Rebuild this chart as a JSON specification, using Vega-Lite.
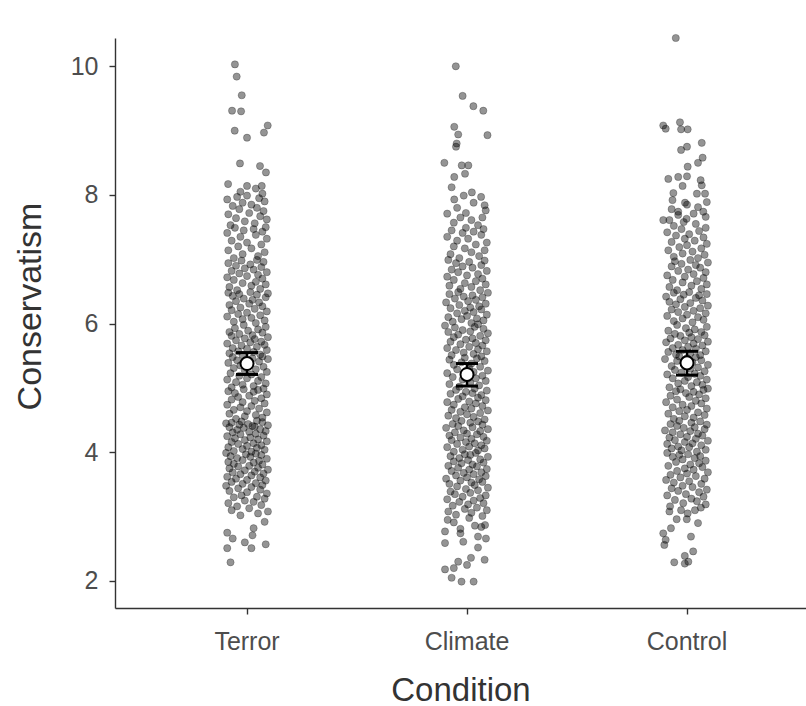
{
"$schema":"https://vega.github.io/schema/vega-lite/v6.json",
"width":691,"height":570,
"autosize":{"type":"none"},
"padding":{"left":115,"top":38,"right":0,"bottom":98},
"background":"white",
"config":{"view":{"stroke":null},"font":"Liberation Sans"},
"datasets":{
"sum":[{"c":"Terror","m":5.38,"lo":5.21,"hi":5.55},{"c":"Climate","m":5.21,"lo":5.03,"hi":5.38},{"c":"Control","m":5.39,"lo":5.2,"hi":5.57}],
"pts":[
{"c":"Terror","v":2.29,"j":-0.075},{"c":"Terror","v":2.51,"j":-0.09},{"c":"Terror","v":2.51,"j":0.02},{"c":"Terror","v":2.57,"j":0.085},{"c":"Terror","v":2.6,"j":-0.01},{"c":"Terror","v":2.66,"j":-0.065},{"c":"Terror","v":2.71,"j":0.025},{"c":"Terror","v":2.75,"j":-0.09},{"c":"Terror","v":2.82,"j":0.03},{"c":"Terror","v":2.92,"j":0.08},
{"c":"Terror","v":3.02,"j":-0.03},{"c":"Terror","v":3.05,"j":0.05},{"c":"Terror","v":3.08,"j":0.095},{"c":"Terror","v":3.1,"j":-0.07},{"c":"Terror","v":3.13,"j":0.01},{"c":"Terror","v":3.16,"j":-0.045},{"c":"Terror","v":3.18,"j":0.065},{"c":"Terror","v":3.21,"j":-0.085},{"c":"Terror","v":3.23,"j":0.03},{"c":"Terror","v":3.25,"j":-0.01},{"c":"Terror","v":3.28,"j":0.08},{"c":"Terror","v":3.3,"j":-0.06},{"c":"Terror","v":3.31,"j":0.045},{"c":"Terror","v":3.33,"j":-0.025},{"c":"Terror","v":3.36,"j":0.09},{"c":"Terror","v":3.38,"j":0.0},{"c":"Terror","v":3.4,"j":-0.08},{"c":"Terror","v":3.42,"j":0.06},{"c":"Terror","v":3.44,"j":-0.04},{"c":"Terror","v":3.46,"j":0.02},{"c":"Terror","v":3.48,"j":-0.095},{"c":"Terror","v":3.49,"j":0.07},
{"c":"Terror","v":3.51,"j":-0.02},{"c":"Terror","v":3.52,"j":0.04},{"c":"Terror","v":3.54,"j":-0.07},{"c":"Terror","v":3.56,"j":0.085},{"c":"Terror","v":3.57,"j":0.0},{"c":"Terror","v":3.59,"j":-0.05},{"c":"Terror","v":3.61,"j":0.06},{"c":"Terror","v":3.62,"j":-0.09},{"c":"Terror","v":3.64,"j":0.02},{"c":"Terror","v":3.66,"j":-0.03},{"c":"Terror","v":3.67,"j":0.075},{"c":"Terror","v":3.69,"j":-0.065},{"c":"Terror","v":3.7,"j":0.035},{"c":"Terror","v":3.72,"j":-0.01},{"c":"Terror","v":3.73,"j":0.095},{"c":"Terror","v":3.75,"j":-0.08},{"c":"Terror","v":3.76,"j":0.05},{"c":"Terror","v":3.78,"j":-0.04},{"c":"Terror","v":3.79,"j":0.01},{"c":"Terror","v":3.81,"j":0.07},{"c":"Terror","v":3.82,"j":-0.06},{"c":"Terror","v":3.84,"j":0.03},{"c":"Terror","v":3.85,"j":-0.085},{"c":"Terror","v":3.87,"j":0.055},{"c":"Terror","v":3.88,"j":-0.02},{"c":"Terror","v":3.9,"j":0.09},{"c":"Terror","v":3.91,"j":-0.045},{"c":"Terror","v":3.93,"j":0.015},{"c":"Terror","v":3.94,"j":-0.075},{"c":"Terror","v":3.96,"j":0.065},{"c":"Terror","v":3.97,"j":-0.005},{"c":"Terror","v":3.98,"j":0.04},{"c":"Terror","v":3.99,"j":-0.095},
{"c":"Terror","v":4.01,"j":0.02},{"c":"Terror","v":4.02,"j":-0.06},{"c":"Terror","v":4.04,"j":0.08},{"c":"Terror","v":4.05,"j":-0.02},{"c":"Terror","v":4.07,"j":0.045},{"c":"Terror","v":4.08,"j":-0.085},{"c":"Terror","v":4.1,"j":0.0},{"c":"Terror","v":4.11,"j":0.065},{"c":"Terror","v":4.13,"j":-0.04},{"c":"Terror","v":4.14,"j":0.03},{"c":"Terror","v":4.16,"j":-0.07},{"c":"Terror","v":4.17,"j":0.09},{"c":"Terror","v":4.19,"j":-0.01},{"c":"Terror","v":4.2,"j":0.05},{"c":"Terror","v":4.22,"j":-0.055},{"c":"Terror","v":4.23,"j":0.015},{"c":"Terror","v":4.25,"j":-0.09},{"c":"Terror","v":4.26,"j":0.075},{"c":"Terror","v":4.28,"j":-0.03},{"c":"Terror","v":4.29,"j":0.04},{"c":"Terror","v":4.31,"j":-0.065},{"c":"Terror","v":4.32,"j":0.01},{"c":"Terror","v":4.33,"j":0.085},{"c":"Terror","v":4.35,"j":-0.045},{"c":"Terror","v":4.36,"j":0.06},{"c":"Terror","v":4.38,"j":-0.015},{"c":"Terror","v":4.39,"j":-0.08},{"c":"Terror","v":4.4,"j":0.035},{"c":"Terror","v":4.42,"j":0.095},{"c":"Terror","v":4.43,"j":-0.035},{"c":"Terror","v":4.44,"j":0.005},{"c":"Terror","v":4.46,"j":-0.07},{"c":"Terror","v":4.47,"j":0.07},{"c":"Terror","v":4.48,"j":-0.025},{"c":"Terror","v":4.49,"j":0.045},{"c":"Terror","v":4.45,"j":-0.095},{"c":"Terror","v":4.41,"j":0.025},
{"c":"Terror","v":4.52,"j":-0.05},{"c":"Terror","v":4.54,"j":0.07},{"c":"Terror","v":4.56,"j":-0.01},{"c":"Terror","v":4.58,"j":0.04},{"c":"Terror","v":4.6,"j":-0.08},{"c":"Terror","v":4.62,"j":0.09},{"c":"Terror","v":4.64,"j":0.0},{"c":"Terror","v":4.66,"j":-0.06},{"c":"Terror","v":4.68,"j":0.055},{"c":"Terror","v":4.7,"j":-0.03},{"c":"Terror","v":4.72,"j":0.02},{"c":"Terror","v":4.74,"j":-0.09},{"c":"Terror","v":4.76,"j":0.08},{"c":"Terror","v":4.78,"j":-0.02},{"c":"Terror","v":4.8,"j":0.035},{"c":"Terror","v":4.82,"j":-0.07},{"c":"Terror","v":4.84,"j":0.065},{"c":"Terror","v":4.86,"j":-0.04},{"c":"Terror","v":4.88,"j":0.01},{"c":"Terror","v":4.9,"j":0.09},{"c":"Terror","v":4.92,"j":-0.055},{"c":"Terror","v":4.94,"j":0.03},{"c":"Terror","v":4.95,"j":-0.085},{"c":"Terror","v":4.97,"j":0.05},{"c":"Terror","v":4.98,"j":-0.015},{"c":"Terror","v":4.99,"j":0.075},
{"c":"Terror","v":5.01,"j":-0.07},{"c":"Terror","v":5.03,"j":0.03},{"c":"Terror","v":5.05,"j":-0.02},{"c":"Terror","v":5.07,"j":0.085},{"c":"Terror","v":5.09,"j":-0.05},{"c":"Terror","v":5.11,"j":0.05},{"c":"Terror","v":5.13,"j":-0.09},{"c":"Terror","v":5.15,"j":0.0},{"c":"Terror","v":5.17,"j":0.065},{"c":"Terror","v":5.19,"j":-0.035},{"c":"Terror","v":5.21,"j":0.02},{"c":"Terror","v":5.23,"j":-0.075},{"c":"Terror","v":5.25,"j":0.09},{"c":"Terror","v":5.27,"j":-0.01},{"c":"Terror","v":5.29,"j":0.04},{"c":"Terror","v":5.31,"j":-0.06},{"c":"Terror","v":5.33,"j":0.075},{"c":"Terror","v":5.35,"j":-0.03},{"c":"Terror","v":5.37,"j":0.01},{"c":"Terror","v":5.39,"j":-0.085},{"c":"Terror","v":5.41,"j":0.055},{"c":"Terror","v":5.43,"j":-0.045},{"c":"Terror","v":5.45,"j":0.095},{"c":"Terror","v":5.46,"j":0.025},{"c":"Terror","v":5.48,"j":-0.065},{"c":"Terror","v":5.49,"j":0.07},
{"c":"Terror","v":5.51,"j":-0.02},{"c":"Terror","v":5.52,"j":0.06},{"c":"Terror","v":5.54,"j":-0.08},{"c":"Terror","v":5.56,"j":0.03},{"c":"Terror","v":5.57,"j":-0.04},{"c":"Terror","v":5.59,"j":0.09},{"c":"Terror","v":5.61,"j":0.0},{"c":"Terror","v":5.62,"j":-0.065},{"c":"Terror","v":5.64,"j":0.045},{"c":"Terror","v":5.66,"j":-0.025},{"c":"Terror","v":5.67,"j":0.08},{"c":"Terror","v":5.69,"j":-0.09},{"c":"Terror","v":5.71,"j":0.015},{"c":"Terror","v":5.72,"j":0.065},{"c":"Terror","v":5.74,"j":-0.05},{"c":"Terror","v":5.76,"j":0.035},{"c":"Terror","v":5.77,"j":-0.01},{"c":"Terror","v":5.79,"j":0.095},{"c":"Terror","v":5.81,"j":-0.07},{"c":"Terror","v":5.82,"j":0.025},{"c":"Terror","v":5.84,"j":-0.035},{"c":"Terror","v":5.86,"j":0.07},{"c":"Terror","v":5.87,"j":-0.08},{"c":"Terror","v":5.89,"j":0.005},{"c":"Terror","v":5.91,"j":0.05},{"c":"Terror","v":5.93,"j":-0.055},{"c":"Terror","v":5.95,"j":0.085},{"c":"Terror","v":5.98,"j":-0.015},
{"c":"Terror","v":6.01,"j":0.04},{"c":"Terror","v":6.03,"j":-0.06},{"c":"Terror","v":6.05,"j":0.08},{"c":"Terror","v":6.07,"j":-0.02},{"c":"Terror","v":6.09,"j":0.02},{"c":"Terror","v":6.11,"j":-0.09},{"c":"Terror","v":6.13,"j":0.06},{"c":"Terror","v":6.15,"j":-0.04},{"c":"Terror","v":6.17,"j":0.0},{"c":"Terror","v":6.19,"j":0.09},{"c":"Terror","v":6.21,"j":-0.07},{"c":"Terror","v":6.23,"j":0.035},{"c":"Terror","v":6.25,"j":-0.03},{"c":"Terror","v":6.27,"j":0.07},{"c":"Terror","v":6.29,"j":-0.08},{"c":"Terror","v":6.31,"j":0.01},{"c":"Terror","v":6.33,"j":0.055},{"c":"Terror","v":6.35,"j":-0.05},{"c":"Terror","v":6.37,"j":0.025},{"c":"Terror","v":6.39,"j":-0.015},{"c":"Terror","v":6.41,"j":0.085},{"c":"Terror","v":6.43,"j":-0.065},{"c":"Terror","v":6.45,"j":0.045},{"c":"Terror","v":6.46,"j":-0.035},{"c":"Terror","v":6.47,"j":0.095},{"c":"Terror","v":6.48,"j":-0.085},{"c":"Terror","v":6.49,"j":0.015},
{"c":"Terror","v":6.52,"j":-0.045},{"c":"Terror","v":6.54,"j":0.06},{"c":"Terror","v":6.57,"j":-0.08},{"c":"Terror","v":6.59,"j":0.02},{"c":"Terror","v":6.61,"j":0.085},{"c":"Terror","v":6.63,"j":-0.02},{"c":"Terror","v":6.65,"j":0.04},{"c":"Terror","v":6.68,"j":-0.06},{"c":"Terror","v":6.7,"j":0.07},{"c":"Terror","v":6.72,"j":-0.09},{"c":"Terror","v":6.74,"j":0.0},{"c":"Terror","v":6.76,"j":0.05},{"c":"Terror","v":6.78,"j":-0.035},{"c":"Terror","v":6.8,"j":0.09},{"c":"Terror","v":6.82,"j":-0.07},{"c":"Terror","v":6.84,"j":0.03},{"c":"Terror","v":6.86,"j":-0.01},{"c":"Terror","v":6.88,"j":0.065},{"c":"Terror","v":6.9,"j":-0.05},{"c":"Terror","v":6.92,"j":0.015},{"c":"Terror","v":6.94,"j":-0.085},{"c":"Terror","v":6.96,"j":0.075},{"c":"Terror","v":6.98,"j":-0.025},{"c":"Terror","v":6.99,"j":0.045},
{"c":"Terror","v":7.02,"j":-0.06},{"c":"Terror","v":7.05,"j":0.05},{"c":"Terror","v":7.08,"j":-0.02},{"c":"Terror","v":7.11,"j":0.08},{"c":"Terror","v":7.14,"j":-0.085},{"c":"Terror","v":7.17,"j":0.02},{"c":"Terror","v":7.2,"j":-0.04},{"c":"Terror","v":7.23,"j":0.065},{"c":"Terror","v":7.26,"j":0.0},{"c":"Terror","v":7.29,"j":-0.07},{"c":"Terror","v":7.32,"j":0.09},{"c":"Terror","v":7.35,"j":-0.03},{"c":"Terror","v":7.38,"j":0.04},{"c":"Terror","v":7.41,"j":-0.09},{"c":"Terror","v":7.43,"j":0.07},{"c":"Terror","v":7.45,"j":-0.015},{"c":"Terror","v":7.47,"j":0.03},{"c":"Terror","v":7.49,"j":-0.055},{"c":"Terror","v":7.5,"j":0.085},
{"c":"Terror","v":7.53,"j":-0.075},{"c":"Terror","v":7.56,"j":0.035},{"c":"Terror","v":7.59,"j":-0.01},{"c":"Terror","v":7.62,"j":0.09},{"c":"Terror","v":7.64,"j":-0.05},{"c":"Terror","v":7.67,"j":0.06},{"c":"Terror","v":7.7,"j":-0.085},{"c":"Terror","v":7.72,"j":0.01},{"c":"Terror","v":7.75,"j":0.075},{"c":"Terror","v":7.78,"j":-0.035},{"c":"Terror","v":7.8,"j":0.045},{"c":"Terror","v":7.83,"j":-0.065},{"c":"Terror","v":7.85,"j":0.02},{"c":"Terror","v":7.88,"j":-0.02},{"c":"Terror","v":7.9,"j":0.08},{"c":"Terror","v":7.93,"j":-0.09},{"c":"Terror","v":7.95,"j":0.055},{"c":"Terror","v":7.97,"j":-0.045},{"c":"Terror","v":7.99,"j":0.0},{"c":"Terror","v":8.02,"j":0.07},
{"c":"Terror","v":8.05,"j":-0.03},{"c":"Terror","v":8.1,"j":0.04},{"c":"Terror","v":8.14,"j":0.0},{"c":"Terror","v":8.14,"j":0.067},{"c":"Terror","v":8.17,"j":-0.086},{"c":"Terror","v":8.35,"j":0.086},{"c":"Terror","v":8.45,"j":0.059},{"c":"Terror","v":8.49,"j":-0.032},
{"c":"Terror","v":8.89,"j":0.0},{"c":"Terror","v":8.97,"j":0.077},{"c":"Terror","v":9.0,"j":-0.056},{"c":"Terror","v":9.08,"j":0.094},{"c":"Terror","v":9.3,"j":-0.027},{"c":"Terror","v":9.31,"j":-0.068},{"c":"Terror","v":9.55,"j":-0.024},{"c":"Terror","v":9.84,"j":-0.047},{"c":"Terror","v":10.03,"j":-0.055},

{"c":"Climate","v":1.99,"j":-0.025},{"c":"Climate","v":1.99,"j":0.03},{"c":"Climate","v":2.05,"j":-0.07},{"c":"Climate","v":2.18,"j":-0.1},{"c":"Climate","v":2.2,"j":-0.06},{"c":"Climate","v":2.25,"j":0.0},{"c":"Climate","v":2.3,"j":-0.04},{"c":"Climate","v":2.33,"j":0.08},{"c":"Climate","v":2.36,"j":0.018},
{"c":"Climate","v":2.52,"j":0.05},{"c":"Climate","v":2.59,"j":-0.1},{"c":"Climate","v":2.61,"j":-0.017},{"c":"Climate","v":2.66,"j":0.086},{"c":"Climate","v":2.69,"j":0.05},{"c":"Climate","v":2.74,"j":-0.03},{"c":"Climate","v":2.77,"j":-0.1},{"c":"Climate","v":2.81,"j":-0.03},{"c":"Climate","v":2.84,"j":0.065},{"c":"Climate","v":2.86,"j":0.036},{"c":"Climate","v":2.87,"j":0.082},{"c":"Climate","v":2.91,"j":-0.06},{"c":"Climate","v":2.95,"j":-0.088},{"c":"Climate","v":2.98,"j":0.01},
{"c":"Climate","v":3.01,"j":0.07},{"c":"Climate","v":3.03,"j":-0.05},{"c":"Climate","v":3.06,"j":0.02},{"c":"Climate","v":3.08,"j":-0.085},{"c":"Climate","v":3.1,"j":0.09},{"c":"Climate","v":3.12,"j":-0.01},{"c":"Climate","v":3.14,"j":0.045},{"c":"Climate","v":3.17,"j":-0.065},{"c":"Climate","v":3.19,"j":0.005},{"c":"Climate","v":3.21,"j":0.075},{"c":"Climate","v":3.23,"j":-0.035},{"c":"Climate","v":3.25,"j":0.03},{"c":"Climate","v":3.27,"j":-0.09},{"c":"Climate","v":3.29,"j":0.06},{"c":"Climate","v":3.31,"j":-0.02},{"c":"Climate","v":3.33,"j":0.085},{"c":"Climate","v":3.35,"j":-0.055},{"c":"Climate","v":3.37,"j":0.015},{"c":"Climate","v":3.39,"j":-0.075},{"c":"Climate","v":3.41,"j":0.05},{"c":"Climate","v":3.43,"j":-0.005},{"c":"Climate","v":3.45,"j":0.095},{"c":"Climate","v":3.47,"j":-0.045},{"c":"Climate","v":3.49,"j":0.035},
{"c":"Climate","v":3.51,"j":-0.08},{"c":"Climate","v":3.53,"j":0.02},{"c":"Climate","v":3.54,"j":0.07},{"c":"Climate","v":3.56,"j":-0.03},{"c":"Climate","v":3.58,"j":0.055},{"c":"Climate","v":3.59,"j":-0.095},{"c":"Climate","v":3.61,"j":0.0},{"c":"Climate","v":3.63,"j":0.085},{"c":"Climate","v":3.64,"j":-0.05},{"c":"Climate","v":3.66,"j":0.03},{"c":"Climate","v":3.68,"j":-0.015},{"c":"Climate","v":3.69,"j":0.065},{"c":"Climate","v":3.71,"j":-0.07},{"c":"Climate","v":3.73,"j":0.01},{"c":"Climate","v":3.74,"j":0.09},{"c":"Climate","v":3.76,"j":-0.04},{"c":"Climate","v":3.78,"j":0.045},{"c":"Climate","v":3.79,"j":-0.085},{"c":"Climate","v":3.81,"j":0.025},{"c":"Climate","v":3.83,"j":-0.025},{"c":"Climate","v":3.84,"j":0.075},{"c":"Climate","v":3.86,"j":-0.06},{"c":"Climate","v":3.88,"j":0.005},{"c":"Climate","v":3.89,"j":0.06},{"c":"Climate","v":3.91,"j":-0.035},{"c":"Climate","v":3.93,"j":0.095},{"c":"Climate","v":3.94,"j":-0.075},{"c":"Climate","v":3.96,"j":0.015},{"c":"Climate","v":3.97,"j":-0.01},{"c":"Climate","v":3.99,"j":0.04},
{"c":"Climate","v":4.01,"j":-0.06},{"c":"Climate","v":4.03,"j":0.05},{"c":"Climate","v":4.04,"j":-0.02},{"c":"Climate","v":4.06,"j":0.08},{"c":"Climate","v":4.08,"j":-0.09},{"c":"Climate","v":4.09,"j":0.01},{"c":"Climate","v":4.11,"j":0.065},{"c":"Climate","v":4.13,"j":-0.045},{"c":"Climate","v":4.14,"j":0.035},{"c":"Climate","v":4.16,"j":-0.005},{"c":"Climate","v":4.18,"j":0.09},{"c":"Climate","v":4.19,"j":-0.07},{"c":"Climate","v":4.21,"j":0.02},{"c":"Climate","v":4.23,"j":-0.03},{"c":"Climate","v":4.24,"j":0.075},{"c":"Climate","v":4.26,"j":-0.08},{"c":"Climate","v":4.28,"j":0.045},{"c":"Climate","v":4.29,"j":0.0},{"c":"Climate","v":4.31,"j":-0.055},{"c":"Climate","v":4.33,"j":0.06},{"c":"Climate","v":4.34,"j":-0.015},{"c":"Climate","v":4.36,"j":0.095},{"c":"Climate","v":4.38,"j":-0.095},{"c":"Climate","v":4.39,"j":0.025},{"c":"Climate","v":4.41,"j":-0.04},{"c":"Climate","v":4.43,"j":0.07},{"c":"Climate","v":4.44,"j":-0.065},{"c":"Climate","v":4.46,"j":0.015},{"c":"Climate","v":4.48,"j":0.05},{"c":"Climate","v":4.49,"j":-0.025},
{"c":"Climate","v":4.51,"j":0.08},{"c":"Climate","v":4.53,"j":-0.05},{"c":"Climate","v":4.55,"j":0.03},{"c":"Climate","v":4.57,"j":-0.085},{"c":"Climate","v":4.59,"j":0.0},{"c":"Climate","v":4.61,"j":0.06},{"c":"Climate","v":4.63,"j":-0.03},{"c":"Climate","v":4.65,"j":0.095},{"c":"Climate","v":4.66,"j":-0.07},{"c":"Climate","v":4.68,"j":0.02},{"c":"Climate","v":4.7,"j":-0.01},{"c":"Climate","v":4.72,"j":0.07},{"c":"Climate","v":4.74,"j":-0.06},{"c":"Climate","v":4.76,"j":0.04},{"c":"Climate","v":4.78,"j":-0.09},{"c":"Climate","v":4.79,"j":0.01},{"c":"Climate","v":4.81,"j":0.085},{"c":"Climate","v":4.83,"j":-0.04},{"c":"Climate","v":4.85,"j":0.05},{"c":"Climate","v":4.87,"j":-0.02},{"c":"Climate","v":4.89,"j":0.065},{"c":"Climate","v":4.91,"j":-0.075},{"c":"Climate","v":4.92,"j":0.025},{"c":"Climate","v":4.94,"j":-0.005},{"c":"Climate","v":4.96,"j":0.09},{"c":"Climate","v":4.97,"j":-0.05},{"c":"Climate","v":4.99,"j":0.035},
{"c":"Climate","v":5.02,"j":-0.035},{"c":"Climate","v":5.04,"j":0.055},{"c":"Climate","v":5.06,"j":-0.08},{"c":"Climate","v":5.08,"j":0.015},{"c":"Climate","v":5.11,"j":0.085},{"c":"Climate","v":5.13,"j":-0.02},{"c":"Climate","v":5.15,"j":0.04},{"c":"Climate","v":5.17,"j":-0.065},{"c":"Climate","v":5.19,"j":0.07},{"c":"Climate","v":5.21,"j":-0.005},{"c":"Climate","v":5.23,"j":-0.09},{"c":"Climate","v":5.25,"j":0.03},{"c":"Climate","v":5.27,"j":0.095},{"c":"Climate","v":5.29,"j":-0.045},{"c":"Climate","v":5.31,"j":0.01},{"c":"Climate","v":5.33,"j":0.06},{"c":"Climate","v":5.36,"j":-0.06},{"c":"Climate","v":5.38,"j":0.02},{"c":"Climate","v":5.4,"j":-0.025},{"c":"Climate","v":5.42,"j":0.08},{"c":"Climate","v":5.44,"j":-0.08},{"c":"Climate","v":5.46,"j":0.045},{"c":"Climate","v":5.47,"j":-0.01},{"c":"Climate","v":5.49,"j":0.065},
{"c":"Climate","v":5.51,"j":-0.07},{"c":"Climate","v":5.53,"j":0.03},{"c":"Climate","v":5.55,"j":-0.015},{"c":"Climate","v":5.57,"j":0.09},{"c":"Climate","v":5.59,"j":-0.05},{"c":"Climate","v":5.6,"j":0.05},{"c":"Climate","v":5.62,"j":-0.09},{"c":"Climate","v":5.64,"j":0.01},{"c":"Climate","v":5.66,"j":0.07},{"c":"Climate","v":5.68,"j":-0.03},{"c":"Climate","v":5.7,"j":0.04},{"c":"Climate","v":5.72,"j":-0.075},{"c":"Climate","v":5.74,"j":0.085},{"c":"Climate","v":5.75,"j":-0.005},{"c":"Climate","v":5.77,"j":0.025},{"c":"Climate","v":5.79,"j":-0.06},{"c":"Climate","v":5.81,"j":0.06},{"c":"Climate","v":5.83,"j":-0.04},{"c":"Climate","v":5.85,"j":0.095},{"c":"Climate","v":5.87,"j":-0.085},{"c":"Climate","v":5.88,"j":0.015},{"c":"Climate","v":5.9,"j":-0.02},{"c":"Climate","v":5.92,"j":0.075},{"c":"Climate","v":5.94,"j":-0.055},{"c":"Climate","v":5.95,"j":0.035},{"c":"Climate","v":5.97,"j":-0.1},{"c":"Climate","v":5.99,"j":0.05},
{"c":"Climate","v":6.01,"j":0.02},{"c":"Climate","v":6.03,"j":-0.065},{"c":"Climate","v":6.05,"j":0.075},{"c":"Climate","v":6.07,"j":-0.025},{"c":"Climate","v":6.08,"j":0.045},{"c":"Climate","v":6.1,"j":-0.085},{"c":"Climate","v":6.12,"j":0.0},{"c":"Climate","v":6.14,"j":0.09},{"c":"Climate","v":6.16,"j":-0.045},{"c":"Climate","v":6.18,"j":0.03},{"c":"Climate","v":6.2,"j":-0.01},{"c":"Climate","v":6.22,"j":0.065},{"c":"Climate","v":6.24,"j":-0.075},{"c":"Climate","v":6.25,"j":0.015},{"c":"Climate","v":6.27,"j":0.055},{"c":"Climate","v":6.29,"j":-0.035},{"c":"Climate","v":6.31,"j":0.085},{"c":"Climate","v":6.33,"j":-0.095},{"c":"Climate","v":6.35,"j":0.005},{"c":"Climate","v":6.37,"j":0.04},{"c":"Climate","v":6.39,"j":-0.055},{"c":"Climate","v":6.41,"j":0.07},{"c":"Climate","v":6.42,"j":-0.015},{"c":"Climate","v":6.44,"j":0.025},{"c":"Climate","v":6.46,"j":-0.08},{"c":"Climate","v":6.48,"j":0.095},{"c":"Climate","v":6.49,"j":-0.04},
{"c":"Climate","v":6.52,"j":0.06},{"c":"Climate","v":6.54,"j":-0.03},{"c":"Climate","v":6.57,"j":0.02},{"c":"Climate","v":6.59,"j":-0.08},{"c":"Climate","v":6.61,"j":0.085},{"c":"Climate","v":6.63,"j":-0.01},{"c":"Climate","v":6.66,"j":0.04},{"c":"Climate","v":6.68,"j":-0.06},{"c":"Climate","v":6.7,"j":0.07},{"c":"Climate","v":6.73,"j":-0.09},{"c":"Climate","v":6.75,"j":0.0},{"c":"Climate","v":6.77,"j":0.05},{"c":"Climate","v":6.8,"j":-0.04},{"c":"Climate","v":6.82,"j":0.09},{"c":"Climate","v":6.84,"j":-0.07},{"c":"Climate","v":6.87,"j":0.025},{"c":"Climate","v":6.89,"j":-0.02},{"c":"Climate","v":6.91,"j":0.065},{"c":"Climate","v":6.94,"j":-0.05},{"c":"Climate","v":6.96,"j":0.01},{"c":"Climate","v":6.98,"j":0.08},{"c":"Climate","v":6.99,"j":-0.085},
{"c":"Climate","v":7.02,"j":-0.035},{"c":"Climate","v":7.05,"j":0.055},{"c":"Climate","v":7.08,"j":-0.075},{"c":"Climate","v":7.11,"j":0.02},{"c":"Climate","v":7.14,"j":0.08},{"c":"Climate","v":7.17,"j":-0.01},{"c":"Climate","v":7.2,"j":-0.06},{"c":"Climate","v":7.23,"j":0.04},{"c":"Climate","v":7.26,"j":0.09},{"c":"Climate","v":7.29,"j":-0.045},{"c":"Climate","v":7.32,"j":0.005},{"c":"Climate","v":7.35,"j":-0.09},{"c":"Climate","v":7.38,"j":0.065},{"c":"Climate","v":7.41,"j":-0.02},{"c":"Climate","v":7.43,"j":0.03},{"c":"Climate","v":7.45,"j":-0.07},{"c":"Climate","v":7.47,"j":0.075},{"c":"Climate","v":7.49,"j":-0.005},
{"c":"Climate","v":7.53,"j":0.05},{"c":"Climate","v":7.57,"j":-0.06},{"c":"Climate","v":7.61,"j":0.02},{"c":"Climate","v":7.65,"j":-0.03},{"c":"Climate","v":7.65,"j":0.07},{"c":"Climate","v":7.71,"j":-0.09},{"c":"Climate","v":7.72,"j":-0.005},{"c":"Climate","v":7.76,"j":0.085},{"c":"Climate","v":7.8,"j":-0.045},{"c":"Climate","v":7.84,"j":0.08},{"c":"Climate","v":7.88,"j":0.03},{"c":"Climate","v":7.93,"j":-0.058},{"c":"Climate","v":7.97,"j":0.064},{"c":"Climate","v":7.99,"j":-0.015},
{"c":"Climate","v":8.04,"j":0.022},{"c":"Climate","v":8.12,"j":-0.07},{"c":"Climate","v":8.28,"j":-0.058},{"c":"Climate","v":8.33,"j":-0.009},{"c":"Climate","v":8.46,"j":-0.024},{"c":"Climate","v":8.46,"j":0.006},
{"c":"Climate","v":8.5,"j":-0.103},{"c":"Climate","v":8.75,"j":-0.05},{"c":"Climate","v":8.8,"j":-0.047},{"c":"Climate","v":8.93,"j":0.093},{"c":"Climate","v":8.94,"j":-0.04},
{"c":"Climate","v":9.06,"j":-0.058},{"c":"Climate","v":9.31,"j":0.074},{"c":"Climate","v":9.38,"j":0.029},{"c":"Climate","v":9.54,"j":-0.02},{"c":"Climate","v":10.0,"j":-0.051},

{"c":"Control","v":2.27,"j":-0.01},{"c":"Control","v":2.29,"j":-0.058},{"c":"Control","v":2.3,"j":0.006},{"c":"Control","v":2.39,"j":-0.01},{"c":"Control","v":2.46,"j":0.028},
{"c":"Control","v":2.56,"j":-0.103},{"c":"Control","v":2.64,"j":-0.097},{"c":"Control","v":2.69,"j":0.018},{"c":"Control","v":2.74,"j":-0.108},{"c":"Control","v":2.82,"j":-0.073},{"c":"Control","v":2.9,"j":0.05},{"c":"Control","v":2.96,"j":-0.047},{"c":"Control","v":2.96,"j":-0.001},
{"c":"Control","v":3.05,"j":0.003},{"c":"Control","v":3.08,"j":-0.08},{"c":"Control","v":3.1,"j":-0.027},{"c":"Control","v":3.1,"j":0.036},{"c":"Control","v":3.14,"j":0.063},{"c":"Control","v":3.16,"j":-0.077},{"c":"Control","v":3.19,"j":0.085},{"c":"Control","v":3.21,"j":-0.017},{"c":"Control","v":3.24,"j":0.045},{"c":"Control","v":3.26,"j":-0.055},{"c":"Control","v":3.28,"j":0.02},{"c":"Control","v":3.31,"j":0.075},{"c":"Control","v":3.33,"j":-0.09},{"c":"Control","v":3.35,"j":-0.005},{"c":"Control","v":3.38,"j":0.055},{"c":"Control","v":3.4,"j":-0.04},{"c":"Control","v":3.42,"j":0.09},{"c":"Control","v":3.44,"j":-0.07},{"c":"Control","v":3.46,"j":0.025},{"c":"Control","v":3.48,"j":-0.02},
{"c":"Control","v":3.51,"j":0.065},{"c":"Control","v":3.53,"j":-0.06},{"c":"Control","v":3.55,"j":0.01},{"c":"Control","v":3.57,"j":-0.095},{"c":"Control","v":3.59,"j":0.08},{"c":"Control","v":3.61,"j":-0.03},{"c":"Control","v":3.63,"j":0.04},{"c":"Control","v":3.65,"j":-0.075},{"c":"Control","v":3.67,"j":0.0},{"c":"Control","v":3.69,"j":0.095},{"c":"Control","v":3.71,"j":-0.045},{"c":"Control","v":3.73,"j":0.03},{"c":"Control","v":3.75,"j":-0.01},{"c":"Control","v":3.77,"j":0.07},{"c":"Control","v":3.79,"j":-0.085},{"c":"Control","v":3.81,"j":0.015},{"c":"Control","v":3.83,"j":0.055},{"c":"Control","v":3.85,"j":-0.05},{"c":"Control","v":3.87,"j":0.085},{"c":"Control","v":3.89,"j":-0.02},{"c":"Control","v":3.91,"j":0.035},{"c":"Control","v":3.93,"j":-0.065},{"c":"Control","v":3.94,"j":0.06},{"c":"Control","v":3.96,"j":-0.035},{"c":"Control","v":3.97,"j":0.005},{"c":"Control","v":3.99,"j":-0.09},
{"c":"Control","v":4.01,"j":0.045},{"c":"Control","v":4.03,"j":-0.025},{"c":"Control","v":4.04,"j":0.085},{"c":"Control","v":4.06,"j":-0.07},{"c":"Control","v":4.08,"j":0.01},{"c":"Control","v":4.09,"j":-0.04},{"c":"Control","v":4.11,"j":0.065},{"c":"Control","v":4.13,"j":-0.09},{"c":"Control","v":4.14,"j":0.025},{"c":"Control","v":4.16,"j":-0.01},{"c":"Control","v":4.18,"j":0.095},{"c":"Control","v":4.19,"j":-0.055},{"c":"Control","v":4.21,"j":0.04},{"c":"Control","v":4.23,"j":-0.08},{"c":"Control","v":4.24,"j":0.0},{"c":"Control","v":4.26,"j":0.07},{"c":"Control","v":4.28,"j":-0.03},{"c":"Control","v":4.29,"j":0.05},{"c":"Control","v":4.31,"j":-0.065},{"c":"Control","v":4.33,"j":0.015},{"c":"Control","v":4.34,"j":-0.1},{"c":"Control","v":4.36,"j":0.08},{"c":"Control","v":4.38,"j":-0.015},{"c":"Control","v":4.39,"j":0.035},{"c":"Control","v":4.41,"j":-0.045},{"c":"Control","v":4.43,"j":0.09},{"c":"Control","v":4.44,"j":-0.075},{"c":"Control","v":4.46,"j":0.02},{"c":"Control","v":4.48,"j":0.06},{"c":"Control","v":4.49,"j":-0.035},
{"c":"Control","v":4.52,"j":-0.06},{"c":"Control","v":4.54,"j":0.03},{"c":"Control","v":4.56,"j":-0.01},{"c":"Control","v":4.58,"j":0.08},{"c":"Control","v":4.6,"j":-0.085},{"c":"Control","v":4.62,"j":0.05},{"c":"Control","v":4.64,"j":-0.035},{"c":"Control","v":4.66,"j":0.0},{"c":"Control","v":4.68,"j":0.09},{"c":"Control","v":4.7,"j":-0.065},{"c":"Control","v":4.72,"j":0.02},{"c":"Control","v":4.74,"j":-0.02},{"c":"Control","v":4.76,"j":0.065},{"c":"Control","v":4.78,"j":-0.095},{"c":"Control","v":4.8,"j":0.04},{"c":"Control","v":4.82,"j":-0.045},{"c":"Control","v":4.84,"j":0.085},{"c":"Control","v":4.86,"j":0.01},{"c":"Control","v":4.88,"j":-0.075},{"c":"Control","v":4.9,"j":0.055},{"c":"Control","v":4.92,"j":-0.005},{"c":"Control","v":4.94,"j":0.03},{"c":"Control","v":4.95,"j":-0.05},{"c":"Control","v":4.97,"j":0.075},{"c":"Control","v":4.98,"j":-0.03},{"c":"Control","v":4.99,"j":0.095},
{"c":"Control","v":5.01,"j":-0.08},{"c":"Control","v":5.03,"j":0.02},{"c":"Control","v":5.05,"j":0.07},{"c":"Control","v":5.07,"j":-0.04},{"c":"Control","v":5.09,"j":0.045},{"c":"Control","v":5.11,"j":-0.01},{"c":"Control","v":5.13,"j":0.09},{"c":"Control","v":5.15,"j":-0.065},{"c":"Control","v":5.17,"j":0.005},{"c":"Control","v":5.19,"j":0.06},{"c":"Control","v":5.21,"j":-0.09},{"c":"Control","v":5.22,"j":0.035},{"c":"Control","v":5.24,"j":-0.025},{"c":"Control","v":5.26,"j":0.08},{"c":"Control","v":5.28,"j":-0.055},{"c":"Control","v":5.3,"j":0.015},{"c":"Control","v":5.32,"j":0.05},{"c":"Control","v":5.34,"j":-0.07},{"c":"Control","v":5.36,"j":0.095},{"c":"Control","v":5.38,"j":-0.015},{"c":"Control","v":5.4,"j":0.025},{"c":"Control","v":5.42,"j":-0.045},{"c":"Control","v":5.43,"j":0.065},{"c":"Control","v":5.45,"j":-0.1},{"c":"Control","v":5.46,"j":0.0},{"c":"Control","v":5.48,"j":0.04},{"c":"Control","v":5.49,"j":-0.035},
{"c":"Control","v":5.51,"j":0.06},{"c":"Control","v":5.52,"j":-0.05},{"c":"Control","v":5.54,"j":0.015},{"c":"Control","v":5.56,"j":-0.085},{"c":"Control","v":5.57,"j":0.085},{"c":"Control","v":5.59,"j":-0.02},{"c":"Control","v":5.61,"j":0.04},{"c":"Control","v":5.62,"j":-0.065},{"c":"Control","v":5.64,"j":0.005},{"c":"Control","v":5.66,"j":0.07},{"c":"Control","v":5.67,"j":-0.04},{"c":"Control","v":5.69,"j":0.03},{"c":"Control","v":5.71,"j":-0.095},{"c":"Control","v":5.72,"j":0.095},{"c":"Control","v":5.74,"j":-0.01},{"c":"Control","v":5.76,"j":0.05},{"c":"Control","v":5.77,"j":-0.075},{"c":"Control","v":5.79,"j":0.02},{"c":"Control","v":5.81,"j":-0.03},{"c":"Control","v":5.82,"j":0.08},{"c":"Control","v":5.84,"j":-0.055},{"c":"Control","v":5.86,"j":0.01},{"c":"Control","v":5.87,"j":0.065},{"c":"Control","v":5.89,"j":-0.085},{"c":"Control","v":5.91,"j":0.035},{"c":"Control","v":5.93,"j":-0.005},{"c":"Control","v":5.95,"j":0.09},{"c":"Control","v":5.98,"j":-0.045},
{"c":"Control","v":6.02,"j":0.025},{"c":"Control","v":6.04,"j":-0.06},{"c":"Control","v":6.06,"j":0.075},{"c":"Control","v":6.08,"j":-0.02},{"c":"Control","v":6.1,"j":0.05},{"c":"Control","v":6.12,"j":-0.09},{"c":"Control","v":6.14,"j":0.0},{"c":"Control","v":6.16,"j":0.085},{"c":"Control","v":6.18,"j":-0.04},{"c":"Control","v":6.2,"j":0.03},{"c":"Control","v":6.22,"j":-0.07},{"c":"Control","v":6.24,"j":0.06},{"c":"Control","v":6.26,"j":-0.01},{"c":"Control","v":6.28,"j":0.095},{"c":"Control","v":6.3,"j":-0.05},{"c":"Control","v":6.32,"j":0.015},{"c":"Control","v":6.34,"j":-0.08},{"c":"Control","v":6.36,"j":0.07},{"c":"Control","v":6.38,"j":-0.03},{"c":"Control","v":6.4,"j":0.04},{"c":"Control","v":6.42,"j":-0.095},{"c":"Control","v":6.44,"j":0.055},{"c":"Control","v":6.45,"j":-0.015},{"c":"Control","v":6.46,"j":0.09},{"c":"Control","v":6.48,"j":-0.06},{"c":"Control","v":6.49,"j":0.01},
{"c":"Control","v":6.52,"j":-0.045},{"c":"Control","v":6.54,"j":0.065},{"c":"Control","v":6.57,"j":-0.08},{"c":"Control","v":6.59,"j":0.02},{"c":"Control","v":6.61,"j":0.09},{"c":"Control","v":6.64,"j":-0.02},{"c":"Control","v":6.66,"j":0.045},{"c":"Control","v":6.68,"j":-0.065},{"c":"Control","v":6.71,"j":0.075},{"c":"Control","v":6.73,"j":-0.01},{"c":"Control","v":6.75,"j":-0.09},{"c":"Control","v":6.77,"j":0.03},{"c":"Control","v":6.8,"j":0.085},{"c":"Control","v":6.82,"j":-0.04},{"c":"Control","v":6.84,"j":0.005},{"c":"Control","v":6.87,"j":0.06},{"c":"Control","v":6.89,"j":-0.07},{"c":"Control","v":6.91,"j":0.04},{"c":"Control","v":6.93,"j":-0.025},{"c":"Control","v":6.95,"j":0.095},{"c":"Control","v":6.97,"j":-0.055},{"c":"Control","v":6.99,"j":0.015},
{"c":"Control","v":7.02,"j":0.05},{"c":"Control","v":7.04,"j":-0.06},{"c":"Control","v":7.07,"j":0.08},{"c":"Control","v":7.09,"j":-0.02},{"c":"Control","v":7.12,"j":0.025},{"c":"Control","v":7.14,"j":-0.085},{"c":"Control","v":7.17,"j":0.065},{"c":"Control","v":7.19,"j":-0.035},{"c":"Control","v":7.22,"j":0.0},{"c":"Control","v":7.24,"j":0.09},{"c":"Control","v":7.27,"j":-0.07},{"c":"Control","v":7.29,"j":0.035},{"c":"Control","v":7.32,"j":-0.01},{"c":"Control","v":7.34,"j":0.075},{"c":"Control","v":7.37,"j":-0.05},{"c":"Control","v":7.39,"j":0.01},{"c":"Control","v":7.42,"j":-0.09},{"c":"Control","v":7.44,"j":0.055},{"c":"Control","v":7.47,"j":-0.025},{"c":"Control","v":7.49,"j":0.085},
{"c":"Control","v":7.52,"j":-0.06},{"c":"Control","v":7.55,"j":0.04},{"c":"Control","v":7.58,"j":-0.015},{"c":"Control","v":7.61,"j":-0.108},{"c":"Control","v":7.61,"j":-0.08},{"c":"Control","v":7.63,"j":-0.002},{"c":"Control","v":7.66,"j":0.085},{"c":"Control","v":7.69,"j":-0.04},{"c":"Control","v":7.71,"j":0.03},{"c":"Control","v":7.74,"j":-0.04},{"c":"Control","v":7.74,"j":0.074},{"c":"Control","v":7.78,"j":-0.07},{"c":"Control","v":7.81,"j":0.05},{"c":"Control","v":7.85,"j":0.0},{"c":"Control","v":7.88,"j":-0.009},{"c":"Control","v":7.89,"j":0.09},{"c":"Control","v":7.92,"j":-0.066},
{"c":"Control","v":8.02,"j":0.045},{"c":"Control","v":8.02,"j":0.082},{"c":"Control","v":8.03,"j":-0.062},{"c":"Control","v":8.14,"j":-0.02},{"c":"Control","v":8.15,"j":0.067},{"c":"Control","v":8.23,"j":0.062},{"c":"Control","v":8.25,"j":-0.085},{"c":"Control","v":8.28,"j":-0.04},{"c":"Control","v":8.29,"j":0.0},{"c":"Control","v":8.44,"j":0.003},
{"c":"Control","v":8.5,"j":0.05},{"c":"Control","v":8.58,"j":0.071},{"c":"Control","v":8.7,"j":-0.027},{"c":"Control","v":8.75,"j":0.0},{"c":"Control","v":8.81,"j":0.067},
{"c":"Control","v":9.02,"j":-0.027},{"c":"Control","v":9.02,"j":0.003},{"c":"Control","v":9.03,"j":-0.097},{"c":"Control","v":9.08,"j":-0.108},{"c":"Control","v":9.13,"j":-0.032},{"c":"Control","v":10.44,"j":-0.051}
]},
"encoding":{
"x":{"field":"c","type":"nominal","sort":["Terror","Climate","Control"],"title":"Condition",
"scale":{"type":"band","paddingInner":0,"paddingOuter":0.0705,"align":0.71},
"axis":{"labelAngle":0,"labelPadding":15,"titlePadding":20,"labelFontSize":25,"labelColor":"#4d4d4d","labelFont":"Liberation Sans","titleFont":"Liberation Sans","titleFontSize":33,"titleFontWeight":"normal","titleColor":"#333333","domainColor":"#333333","domainWidth":1.4,"tickColor":"#333333","tickWidth":1.4,"tickSize":6,"grid":false}}
},
"layer":[
{"data":{"name":"pts"},
"mark":{"type":"circle","size":52,"fill":"#000000","fillOpacity":0.42,"stroke":"#000000","strokeOpacity":0.25,"strokeWidth":1},
"encoding":{
"xOffset":{"field":"j","type":"quantitative","scale":{"domain":[-0.5,0.5]}},
"y":{"field":"v","type":"quantitative","title":"Conservatism","scale":{"domain":[1.58,10.44],"nice":false,"zero":false},
"axis":{"values":[2,4,6,8,10],"format":"d","labelPadding":11,"titlePadding":23,"titleY":268,"labelFontSize":25,"labelColor":"#4d4d4d","labelFont":"Liberation Sans","titleFont":"Liberation Sans","titleFontSize":34,"titleFontWeight":"normal","titleColor":"#333333","domainColor":"#333333","domainWidth":1.4,"tickColor":"#333333","tickWidth":1.4,"tickSize":6,"grid":false}}}},
{"data":{"name":"sum"},"mark":{"type":"rule","color":"#000000","strokeWidth":2.5},
"encoding":{"y":{"field":"lo","type":"quantitative"},"y2":{"field":"hi"}}},
{"data":{"name":"sum"},"mark":{"type":"tick","color":"#000000","size":22,"thickness":3,"opacity":1},
"encoding":{"y":{"field":"lo","type":"quantitative"}}},
{"data":{"name":"sum"},"mark":{"type":"tick","color":"#000000","size":22,"thickness":3,"opacity":1},
"encoding":{"y":{"field":"hi","type":"quantitative"}}},
{"data":{"name":"sum"},"mark":{"type":"point","filled":true,"fill":"#ffffff","stroke":"#000000","strokeWidth":2,"size":170,"opacity":1},
"encoding":{"y":{"field":"m","type":"quantitative"}}}
]
}
